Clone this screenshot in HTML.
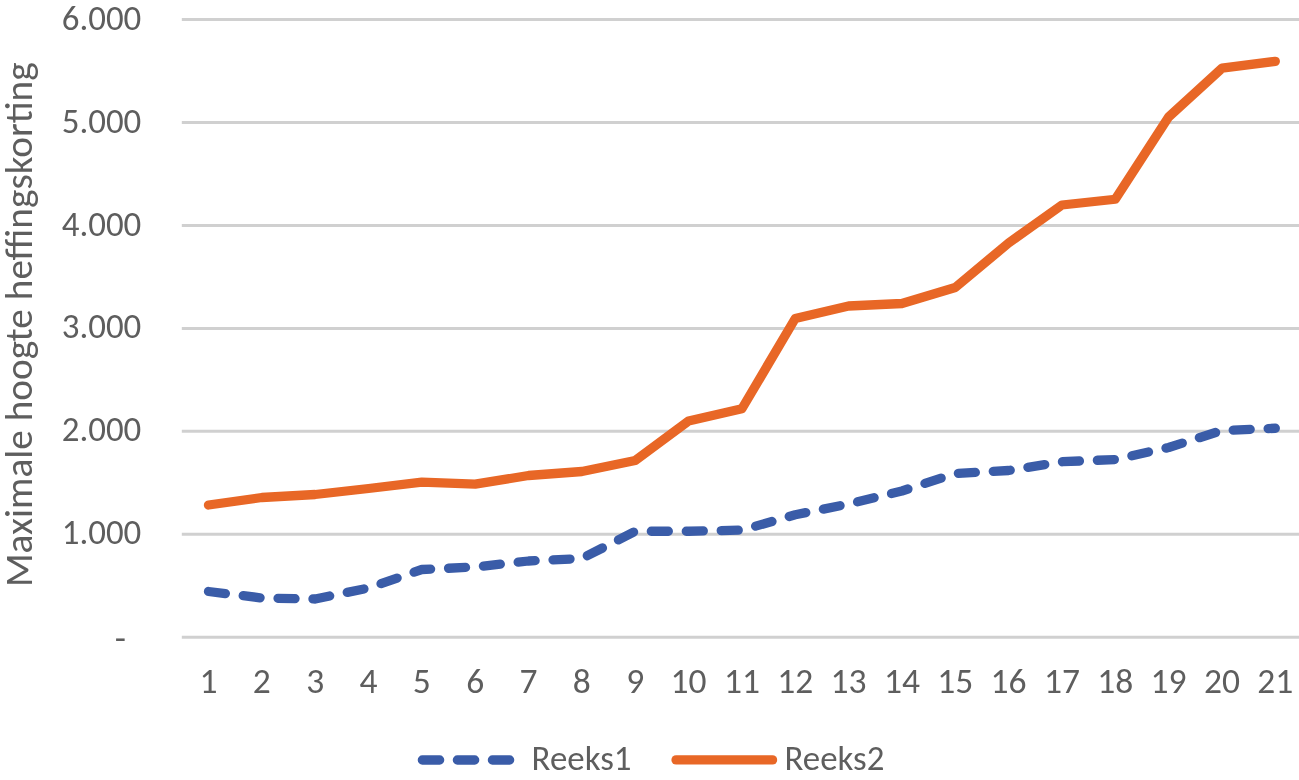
<!DOCTYPE html>
<html lang="nl"><head><meta charset="utf-8"><title>Maximale hoogte heffingskorting</title>
<style>
html,body{margin:0;padding:0;background:#fff;overflow:hidden}
svg{display:block;will-change:transform}
text{font-family:"Carlito", "Liberation Sans", sans-serif;fill:#5E5E5E}
.t{font-size:34.2px;font-size-adjust:cap-height 0.6416}
.ttl{font-size:38.4px;font-size-adjust:0.4775}
</style></head><body>
<svg width="1299" height="780" viewBox="0 0 1299 780">
<rect width="1299" height="780" fill="#fff"/>
<g stroke="#D0D0D0" stroke-width="3" fill="none">
<line x1="181.8" y1="637.25" x2="1300" y2="637.25"/>
<line x1="181.8" y1="534.31" x2="1300" y2="534.31"/>
<line x1="181.8" y1="431.37" x2="1300" y2="431.37"/>
<line x1="181.8" y1="328.43" x2="1300" y2="328.43"/>
<line x1="181.8" y1="225.49" x2="1300" y2="225.49"/>
<line x1="181.8" y1="122.55" x2="1300" y2="122.55"/>
<line x1="181.8" y1="19.61" x2="1300" y2="19.61"/>
</g>
<g class="t" text-anchor="end">
<text x="125.9" y="650.05" textLength="11.2" lengthAdjust="spacingAndGlyphs">-</text>
<text x="141.3" y="543.71" textLength="79.6" lengthAdjust="spacingAndGlyphs">1.000</text>
<text x="141.3" y="440.97" textLength="79.6" lengthAdjust="spacingAndGlyphs">2.000</text>
<text x="141.3" y="338.33" textLength="79.6" lengthAdjust="spacingAndGlyphs">3.000</text>
<text x="141.3" y="236.29" textLength="79.6" lengthAdjust="spacingAndGlyphs">4.000</text>
<text x="141.3" y="133.25" textLength="79.6" lengthAdjust="spacingAndGlyphs">5.000</text>
<text x="141.3" y="29.91" textLength="79.6" lengthAdjust="spacingAndGlyphs">6.000</text>
</g>
<g class="t" text-anchor="middle">
<text x="208.50" y="692.8" textLength="18.0" lengthAdjust="spacingAndGlyphs">1</text>
<text x="261.84" y="692.8" textLength="18.0" lengthAdjust="spacingAndGlyphs">2</text>
<text x="315.18" y="692.8" textLength="18.0" lengthAdjust="spacingAndGlyphs">3</text>
<text x="368.52" y="692.8" textLength="18.0" lengthAdjust="spacingAndGlyphs">4</text>
<text x="421.86" y="692.8" textLength="18.0" lengthAdjust="spacingAndGlyphs">5</text>
<text x="475.20" y="692.8" textLength="18.0" lengthAdjust="spacingAndGlyphs">6</text>
<text x="528.54" y="692.8" textLength="18.0" lengthAdjust="spacingAndGlyphs">7</text>
<text x="581.88" y="692.8" textLength="18.0" lengthAdjust="spacingAndGlyphs">8</text>
<text x="635.22" y="692.8" textLength="18.0" lengthAdjust="spacingAndGlyphs">9</text>
<text x="688.56" y="692.8" textLength="36.0" lengthAdjust="spacingAndGlyphs">10</text>
<text x="741.90" y="692.8" textLength="36.0" lengthAdjust="spacingAndGlyphs">11</text>
<text x="795.24" y="692.8" textLength="36.0" lengthAdjust="spacingAndGlyphs">12</text>
<text x="848.58" y="692.8" textLength="36.0" lengthAdjust="spacingAndGlyphs">13</text>
<text x="901.92" y="692.8" textLength="36.0" lengthAdjust="spacingAndGlyphs">14</text>
<text x="955.26" y="692.8" textLength="36.0" lengthAdjust="spacingAndGlyphs">15</text>
<text x="1008.60" y="692.8" textLength="36.0" lengthAdjust="spacingAndGlyphs">16</text>
<text x="1061.94" y="692.8" textLength="36.0" lengthAdjust="spacingAndGlyphs">17</text>
<text x="1115.28" y="692.8" textLength="36.0" lengthAdjust="spacingAndGlyphs">18</text>
<text x="1168.62" y="692.8" textLength="36.0" lengthAdjust="spacingAndGlyphs">19</text>
<text x="1221.96" y="692.8" textLength="36.0" lengthAdjust="spacingAndGlyphs">20</text>
<text x="1275.30" y="692.8" textLength="36.0" lengthAdjust="spacingAndGlyphs">21</text>
</g>
<text class="ttl" transform="translate(31.6 587.0) rotate(-90)" textLength="524.7" lengthAdjust="spacingAndGlyphs">Maximale hoogte heffingskorting</text>
<polyline points="208.50,591.50 261.84,598.00 315.18,599.00 368.52,588.00 421.86,569.50 475.20,567.00 528.54,561.00 581.88,558.50 635.22,531.25 688.56,531.25 741.90,530.10 795.24,514.75 848.58,504.00 901.92,491.00 955.26,473.50 1008.60,470.50 1061.94,461.75 1115.28,459.50 1168.62,447.50 1221.96,430.50 1275.30,428.25" fill="none" stroke="#3A5CA8" stroke-width="9.3" stroke-linecap="round" stroke-linejoin="round" stroke-dasharray="17.0 17.96"/>
<polyline points="208.50,505.00 261.84,497.50 315.18,494.50 368.52,488.50 421.86,482.20 475.20,484.20 528.54,475.50 581.88,471.50 635.22,460.50 688.56,421.00 741.90,408.75 795.24,318.50 848.58,306.00 901.92,303.50 955.26,287.50 1008.60,243.00 1061.94,205.00 1115.28,199.25 1168.62,117.00 1221.96,68.20 1275.30,61.30" fill="none" stroke="#E86726" stroke-width="9.3" stroke-linecap="round" stroke-linejoin="round"/>
<line x1="422.35" y1="760" x2="509.65" y2="760" stroke="#3A5CA8" stroke-width="9.3" stroke-linecap="round" stroke-dasharray="17.3 17.73"/>
<text class="t" x="531.6" y="770" textLength="99.9" lengthAdjust="spacingAndGlyphs">Reeks1</text>
<line x1="676.05" y1="759.9" x2="772.55" y2="759.9" stroke="#E86726" stroke-width="9.3" stroke-linecap="round"/>
<text class="t" x="784.5" y="770" textLength="99.9" lengthAdjust="spacingAndGlyphs">Reeks2</text>
</svg>
</body></html>
